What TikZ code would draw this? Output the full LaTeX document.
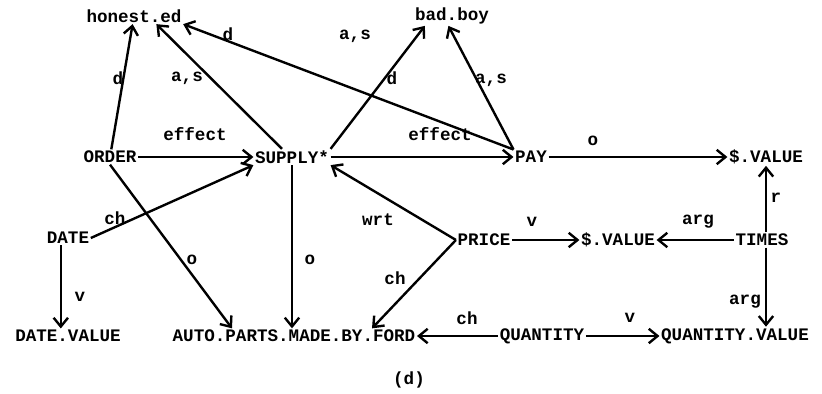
\documentclass[tikz,border=0pt]{standalone}
\usepackage{fontspec}
\setmonofont{Liberation Mono}
\usepackage{tikz}
\usetikzlibrary{arrows.meta,positioning,calc}

\begin{document}
\begin{tikzpicture}[x=0.025cm,y=-0.025cm,
  font=\ttfamily\bfseries\fontsize{12.5}{14}\selectfont,
  >={Straight Barb[length=2.2mm,width=3.6mm]},
  concept/.style={inner sep=1pt},
  rel/.style={->,line width=1.7pt},
  lbl/.style={inner sep=0pt}]
  \useasboundingbox (0,0) rectangle (822,394);
  % concept nodes
  \node[concept] (honest) at (134,16) {honest.ed};
  \node[concept] (bad) at (452,16) {bad.boy};
  \node[concept] (order) at (110,157) {ORDER};
  \node[concept] (supply) at (292,157) {SUPPLY*};
  \node[concept] (pay) at (531,157) {PAY};
  \node[concept] (sval) at (766,157) {\$.VALUE};
  \node[concept] (date) at (68,238) {DATE};
  \node[concept] (price) at (484,240) {PRICE};
  \node[concept] (sval2) at (618,240) {\$.VALUE};
  \node[concept] (times) at (762,240) {TIMES};
  \node[concept] (dval) at (68,336) {DATE.VALUE};
  \node[concept] (auto) at (294,336) {AUTO.PARTS.MADE.BY.FORD};
  \node[concept] (qty) at (542,336) {QUANTITY};
  \node[concept] (qval) at (735,336) {QUANTITY.VALUE};
  % relations
  \draw[rel] (order) -- (honest);
  \draw[rel] ([xshift=-0.25cm]supply.north) -- (honest.-20);
  \draw[rel] (pay.north west) -- (honest.south east);
  \draw[rel] (supply.north east) -- (bad.-160);
  \draw[rel] (pay.north west) -- (bad.-110);
  \draw[rel] (order) -- (supply);
  \draw[rel] (supply) -- (pay);
  \draw[rel] (pay) -- (sval);
  \draw[rel] (order.south) -- ([xshift=-1.55cm]auto.north);
  \draw[rel] (date.east) -- (supply.south west);
  \draw[rel] (supply.south) -- (supply.south |- auto.north);
  \draw[rel] (price.west) -- (supply.south east);
  \draw[rel] (price.west) -- ([xshift=1.95cm]auto.north);
  \draw[rel] (price) -- (sval2);
  \draw[rel] (times) -- (sval2);
  \draw[rel] ([xshift=0.1cm]times.north) -- ([xshift=0.1cm]times.north |- sval.south);
  \draw[rel] ([xshift=0.1cm]times.south) -- ([xshift=0.1cm]times.south |- qval.north);
  \draw[rel] ([xshift=-0.18cm]date.south) -- ([xshift=-0.18cm]date.south |- dval.north);
  \draw[rel] (qty) -- (auto);
  \draw[rel] (qty) -- (qval);
  % relation labels
  \node[lbl] (l1) at (118,78) {d};
  \node[lbl] (l2) at (187,78) {a,s};
  \node[lbl] (l3) at (228,34) {d};
  \node[lbl] (l4) at (355,36) {a,s};
  \node[lbl] (l5) at (392,78) {d};
  \node[lbl] (l6) at (491,80) {a,s};
  \node[lbl] (l7) at (195,134) {effect};
  \node[lbl] (l8) at (440,134) {effect};
  \node[lbl] (l9) at (593,141) {o};
  \node[lbl] (l10) at (115,218) {ch};
  \node[lbl] (l11) at (192,260) {o};
  \node[lbl] (l12) at (310,260) {o};
  \node[lbl] (l13) at (378,220) {wrt};
  \node[lbl] (l14) at (395,278) {ch};
  \node[lbl] (l15) at (532,222) {v};
  \node[lbl] (l16) at (698,222) {arg};
  \node[lbl] (l17) at (776,198) {r};
  \node[lbl] (l18) at (745,302) {arg};
  \node[lbl] (l19) at (80,297) {v};
  \node[lbl] (l20) at (467,318) {ch};
  \node[lbl] (l21) at (630,318) {v};
  \node[lbl] (cap) at (409,380) {(d)};
\end{tikzpicture}
\end{document}
